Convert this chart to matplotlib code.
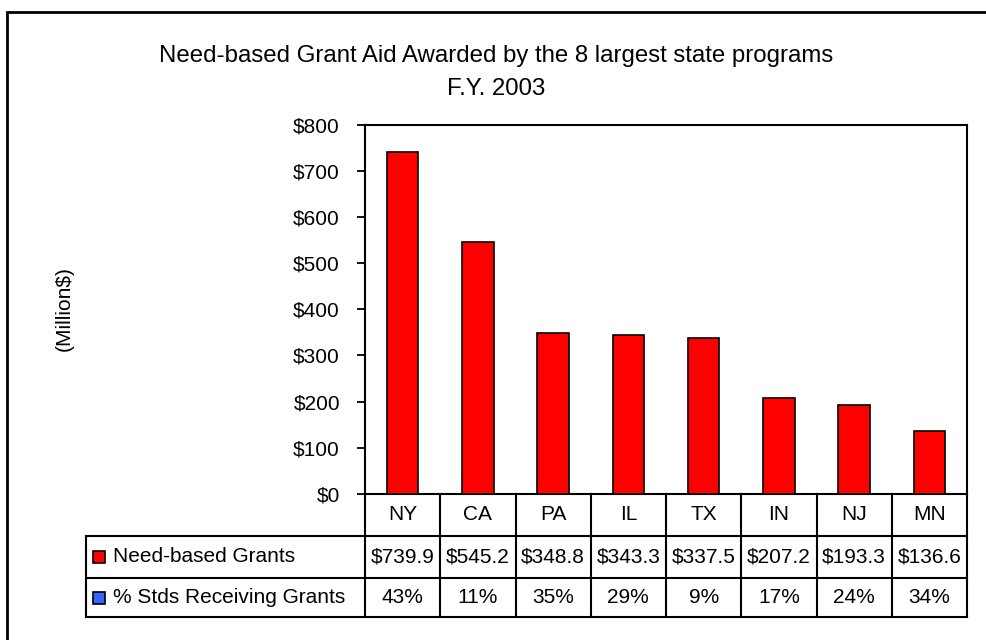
import matplotlib
matplotlib.use("Agg")
import matplotlib.pyplot as plt
from matplotlib.transforms import blended_transform_factory
from matplotlib.patches import Rectangle
from matplotlib.lines import Line2D

states = ["NY", "CA", "PA", "IL", "TX", "IN", "NJ", "MN"]
grants = [739.9, 545.2, 348.8, 343.3, 337.5, 207.2, 193.3, 136.6]
pct_receiving = [43, 11, 35, 29, 9, 17, 24, 34]
series_names = ["Need-based Grants", "% Stds Receiving Grants"]
series_colors = ["#FF0000", "#3366FF"]
title_lines = ["Need-based Grant Aid Awarded by the 8 largest state programs", "F.Y. 2003"]
y_label = "(Million$)"
y_ticks = [0, 100, 200, 300, 400, 500, 600, 700, 800]

plt.rcParams['font.family'] = ['Liberation Sans', 'DejaVu Sans']

W, H = 987, 640
fig = plt.figure(figsize=(W / 100, H / 100), dpi=100)

def fx(px):
    return px / W

def fy(py):
    return 1 - py / H

# plot area
left, right, top, bottom = 365, 967, 124.5, 494
ax = fig.add_axes([fx(left), fy(bottom), fx(right - left), (bottom - top) / H])
x = list(range(len(states)))
ax.bar(x, grants, width=0.42, color=series_colors[0], edgecolor="black", linewidth=1.2, zorder=3)
ax.set_xlim(-0.5, len(states) - 0.5)
ax.set_ylim(0, 800)
ax.set_yticks(y_ticks)
ax.set_yticklabels([f"${v}" for v in y_ticks], fontsize=15)
ax.set_xticks([])
ax.tick_params(axis="y", direction="out", length=6, width=1.3, pad=12)
for s in ax.spines.values():
    s.set_linewidth(1.5)
    s.set_color("black")

lw = 1.5
trans = blended_transform_factory(ax.transData, fig.transFigure)

# table rows (pixel y boundaries)
rows = [494, 536, 578, 617]
tbl_left = 86
# vertical lines at category boundaries
for i in range(len(states) + 1):
    fig.add_artist(Line2D([i - 0.5, i - 0.5], [fy(rows[0]), fy(rows[3])], transform=trans,
                          color="black", lw=lw))
# horizontal lines
for r in rows[1:]:
    fig.add_artist(Line2D([fx(tbl_left), fx(right)], [fy(r), fy(r)], color="black", lw=lw,
                          transform=fig.transFigure))
fig.add_artist(Line2D([fx(tbl_left), fx(tbl_left)], [fy(rows[1]), fy(rows[3])], color="black", lw=lw,
                      transform=fig.transFigure))

fs = 15
for i, st in enumerate(states):
    fig.text(i, fy((rows[0] + rows[1]) / 2), st, transform=trans, ha="center", va="center", fontsize=fs)
    fig.text(i, fy((rows[1] + rows[2]) / 2), f"${grants[i]:.1f}", transform=trans, ha="center", va="center", fontsize=fs)
    fig.text(i, fy((rows[2] + rows[3]) / 2), f"{pct_receiving[i]}%", transform=trans, ha="center", va="center", fontsize=fs)

# legend keys in table
for k, name in enumerate(series_names):
    yc = (rows[k + 1] + rows[k + 2]) / 2
    fig.add_artist(Rectangle((fx(93), fy(yc + 6)), 12 / W, 12 / H, facecolor=series_colors[k],
                             edgecolor="black", lw=1.2, transform=fig.transFigure))
    fig.text(fx(113), fy(yc), name, ha="left", va="center", fontsize=fs)

# title
fig.text(fx(496), fy(62), title_lines[0], ha="center", va="baseline", fontsize=17.3)
fig.text(fx(496), fy(95), title_lines[1], ha="center", va="baseline", fontsize=17.3)

# y label
fig.text(fx(64), fy(309), y_label, rotation=90, ha="center", va="center", fontsize=15)

# outer chart border (cropped at right/bottom)
fig.add_artist(Rectangle((fx(7), fy(700)), (1100) / W, (700 - 12) / H, fill=False,
                         edgecolor="black", lw=2, transform=fig.transFigure))

fig.savefig("out.png", dpi=100)
